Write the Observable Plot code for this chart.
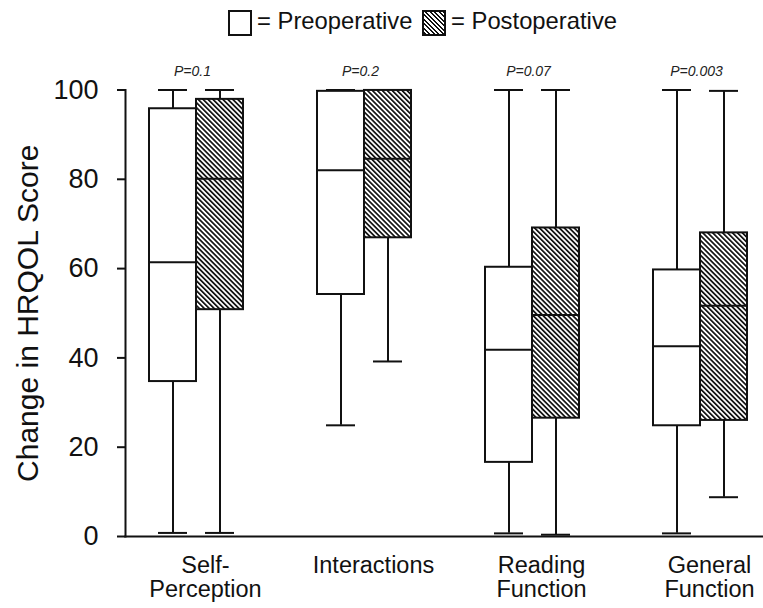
<!DOCTYPE html>
<html>
<head>
<meta charset="utf-8">
<script src="https://cdn.jsdelivr.net/npm/d3@7"></script>
<script src="https://cdn.jsdelivr.net/npm/@observablehq/plot@0.6"></script>
<style>
  html, body { margin: 0; padding: 0; background: white; }
  body { width: 763px; height: 608px; overflow: hidden; font-family: "Liberation Sans", Arial, sans-serif; color: #111; }
  #legend { position: relative; height: 46px; width: 763px; }
  .sw { position: absolute; top: 10px; width: 24px; height: 26px; box-sizing: border-box; border: 2px solid #111; }
  .lt { position: absolute; top: 7px; font-size: 23.8px; line-height: 28px; white-space: nowrap; }
</style>
</head>
<body>
<div id="legend">
  <div class="sw" style="left:228px;background:#fff;"></div>
  <div class="lt" style="left:257px;">= Preoperative</div>
  <div class="sw" style="left:422px;background:repeating-linear-gradient(45deg,#111 0 1.5px,#fff 1.5px 3.2px);"></div>
  <div class="lt" style="left:451px;">= Postoperative</div>
</div>
<div id="chart"></div>
<script>
// ---- data ----
const categories = ["Self-Perception", "Interactions", "Reading Function", "General Function"];
const xLabels = ["Self-\nPerception", "Interactions", "Reading\nFunction", "General\nFunction"];
const pValues = ["P=0.1", "P=0.2", "P=0.07", "P=0.003"];
const yTicks = [0, 20, 40, 60, 80, 100];
const yTitle = "Change in HRQOL Score";

const preMin = [0.8, 24.9, 0.7, 0.7];
const preQ1  = [34.7, 54.2, 16.6, 24.8];
const preMed = [61.4, 82.0, 41.8, 42.6];
const preQ3  = [95.8, 99.7, 60.3, 59.7];
const preMax = [100, 100, 100, 100];

const postMin = [0.8, 39.2, 0.4, 8.8];
const postQ1  = [50.8, 66.9, 26.5, 26.0];
const postMed = [80.1, 84.6, 49.6, 51.7];
const postQ3  = [97.9, 99.9, 69.1, 68.0];
const postMax = [100, 100, 100, 99.8];

const rows = categories.map((c, i) => ({
  cat: c, p: pValues[i],
  preMin: preMin[i], preQ1: preQ1[i], preMed: preMed[i], preQ3: preQ3[i], preMax: preMax[i],
  postMin: postMin[i], postQ1: postQ1[i], postMed: postMed[i], postQ3: postQ3[i], postMax: postMax[i]
}));

const ink = "#111";

function hatchDefs() {
  const defs = d3.create("svg:defs");
  const p = defs.append("pattern")
    .attr("id", "hatch")
    .attr("patternUnits", "userSpaceOnUse")
    .attr("width", 3.5).attr("height", 3.5)
    .attr("patternTransform", "rotate(-45)");
  p.append("rect").attr("width", 3.5).attr("height", 3.5).attr("fill", "white");
  p.append("rect").attr("width", 1.7).attr("height", 3.5).attr("fill", ink);
  return defs.node();
}

function build(bw) {
  const capHalf = 14.5;
  return Plot.plot({
    width: 763,
    height: 562,
    marginLeft: 125,
    marginRight: 0,
    marginTop: 43.5,
    marginBottom: 72,
    style: { fontFamily: "'Liberation Sans', Arial, sans-serif", color: ink, background: "white", overflow: "visible" },
    x: { domain: categories, paddingInner: 0.44, paddingOuter: 0.1155, align: 0.59, label: null },
    y: { domain: [0, 100], label: null },
    marks: [
      hatchDefs,
      // whiskers
      Plot.ruleX(rows, { x: "cat", y1: "preMin", y2: "preMax", dx: -bw / 4, stroke: ink, strokeWidth: 2 }),
      Plot.ruleX(rows, { x: "cat", y1: "postMin", y2: "postMax", dx: bw / 4, stroke: ink, strokeWidth: 2 }),
      // caps
      Plot.tickY(rows, { x: "cat", y: "preMin", insetLeft: bw / 4 - capHalf, insetRight: 3 * bw / 4 - capHalf, stroke: ink, strokeWidth: 2 }),
      Plot.tickY(rows, { x: "cat", y: "preMax", insetLeft: bw / 4 - capHalf, insetRight: 3 * bw / 4 - capHalf, stroke: ink, strokeWidth: 2 }),
      Plot.tickY(rows, { x: "cat", y: "postMin", insetLeft: 3 * bw / 4 - capHalf, insetRight: bw / 4 - capHalf, stroke: ink, strokeWidth: 2 }),
      Plot.tickY(rows, { x: "cat", y: "postMax", insetLeft: 3 * bw / 4 - capHalf, insetRight: bw / 4 - capHalf, stroke: ink, strokeWidth: 2 }),
      // boxes
      Plot.barY(rows, { x: "cat", y1: "preQ1", y2: "preQ3", insetRight: bw / 2, fill: "white", stroke: ink, strokeWidth: 2 }),
      Plot.barY(rows, { x: "cat", y1: "postQ1", y2: "postQ3", insetLeft: bw / 2, fill: "url(#hatch)", stroke: ink, strokeWidth: 2 }),
      // medians
      Plot.tickY(rows, { x: "cat", y: "preMed", insetRight: bw / 2, stroke: ink, strokeWidth: 2 }),
      Plot.tickY(rows, { x: "cat", y: "postMed", insetLeft: bw / 2, stroke: ink, strokeWidth: 2 }),
      // axes lines
      Plot.frame({ anchor: "left", stroke: ink, strokeWidth: 2 }),
      Plot.frame({ anchor: "bottom", stroke: ink, strokeWidth: 2 }),
      Plot.axisY({ ticks: yTicks, tickSize: 8, tickPadding: 19, fontSize: 27, stroke: ink, strokeWidth: 2, label: null }),
      Plot.axisX({ tickSize: 0, tickPadding: 19, fontSize: 23.5, lineHeight: 1.03, dx: 9,
                   tickFormat: d => xLabels[categories.indexOf(d)], label: null }),
      // p values
      Plot.text(rows, { x: "cat", text: "p", frameAnchor: "top", dy: -18, dx: -4, fontSize: 14, fontStyle: "italic", fill: "#222", lineAnchor: "middle" }),
      // y title
      Plot.text([yTitle], { text: d => d, frameAnchor: "left", rotate: -90, dx: -97.5, fontSize: 30, textAnchor: "middle", lineAnchor: "middle", fill: ink })
    ]
  });
}

const first = build(94);
const bw = first.scale("x").bandwidth;
document.getElementById("chart").append(build(bw));
</script>
</body>
</html>
